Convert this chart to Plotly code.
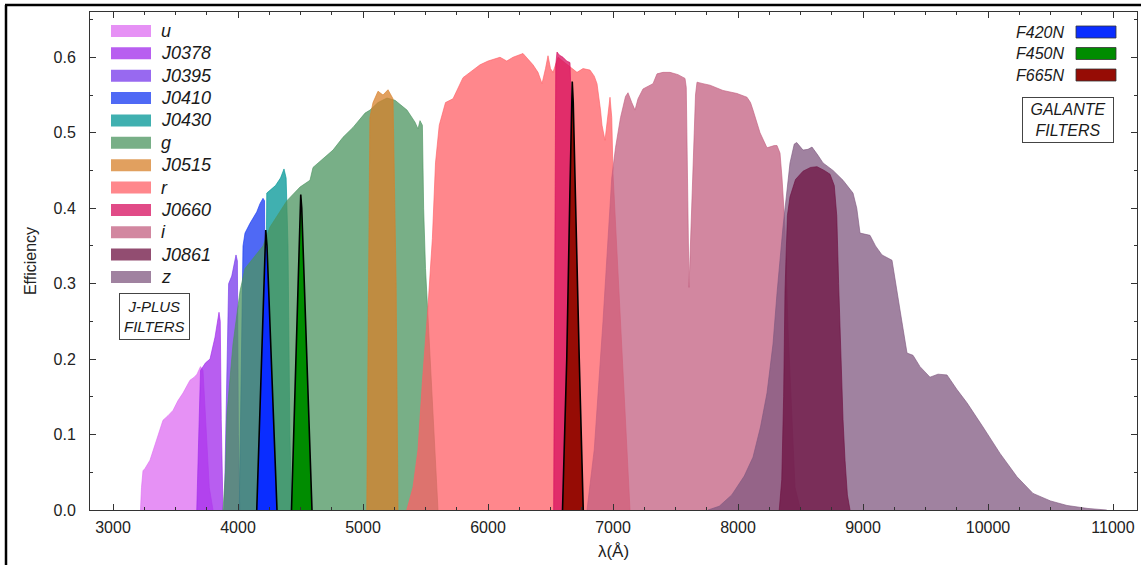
import plotly.graph_objects as go

# ---------------- data (wavelength in Angstrom, efficiency) ----------------
jplus_names = ["u", "J0378", "J0395", "J0410", "J0430", "g", "J0515", "r", "J0660", "i", "J0861", "z"]
galante_names = ["F420N", "F450N", "F665N"]

u_wl = [3220, 3228, 3240, 3256, 3296, 3350, 3400, 3440, 3480, 3520, 3560, 3616, 3650, 3672, 3700, 3720, 3745, 3770, 3800]
u_eff = [0.0, 0.03, 0.052, 0.055, 0.066, 0.095, 0.119, 0.125, 0.132, 0.145, 0.155, 0.172, 0.176, 0.18, 0.19, 0.185, 0.1, 0.03, 0.0]

j0378_wl = [3670, 3685, 3700, 3740, 3776, 3816, 3848, 3858, 3866, 3880]
j0378_eff = [0.0, 0.08, 0.185, 0.195, 0.2, 0.229, 0.262, 0.25, 0.12, 0.0]

j0395_wl = [3890, 3905, 3925, 3950, 3984, 3995, 4003, 4015]
j0395_eff = [0.0, 0.15, 0.3, 0.31, 0.338, 0.33, 0.1, 0.0]

j0410_wl = [4010, 4025, 4040, 4056, 4096, 4150, 4176, 4200, 4212, 4220, 4235]
j0410_eff = [0.0, 0.2, 0.35, 0.367, 0.38, 0.395, 0.406, 0.413, 0.41, 0.2, 0.0]

j0430_wl = [4210, 4222, 4230, 4300, 4340, 4368, 4385, 4400, 4415, 4430]
j0430_eff = [0.0, 0.3, 0.42, 0.43, 0.44, 0.452, 0.44, 0.35, 0.1, 0.0]

g_wl = [3880, 3900, 3912, 3960, 4016, 4056, 4200, 4256, 4392, 4496, 4576, 4600, 4760, 4840, 4920, 5016,
        5056, 5120, 5192, 5256, 5352, 5416, 5440, 5456, 5475, 5485, 5500, 5530, 5560, 5600]
g_eff = [0.0, 0.05, 0.128, 0.22, 0.29, 0.32, 0.35, 0.375, 0.41, 0.428, 0.437, 0.454, 0.477, 0.494, 0.507, 0.526,
         0.53, 0.54, 0.546, 0.543, 0.53, 0.514, 0.505, 0.516, 0.51, 0.4, 0.32, 0.22, 0.12, 0.0]

j0515_wl = [5030, 5045, 5055, 5080, 5120, 5160, 5200, 5240, 5265, 5280]
j0515_eff = [0.0, 0.3, 0.52, 0.54, 0.555, 0.55, 0.557, 0.545, 0.3, 0.0]

r_wl = [5350, 5400, 5440, 5475, 5520, 5555, 5580, 5610, 5660, 5720, 5800, 5860, 5936, 6000, 6096, 6150, 6200,
        6280, 6320, 6360, 6400, 6432, 6460, 6480, 6500, 6520, 6560, 6640, 6712, 6760, 6816, 6850, 6872, 6900,
        6912, 6936, 6960, 6976, 6990, 7000, 7136]
r_eff = [0.0, 0.03, 0.08, 0.17, 0.27, 0.36, 0.46, 0.51, 0.54, 0.545, 0.573, 0.58, 0.59, 0.595, 0.6, 0.595, 0.6,
         0.605, 0.597, 0.59, 0.58, 0.565, 0.585, 0.602, 0.585, 0.58, 0.6, 0.59, 0.58, 0.585, 0.583, 0.575, 0.565, 0.53,
         0.51, 0.49, 0.52, 0.547, 0.52, 0.446, 0.0]

j0660_wl = [6525, 6535, 6542, 6552, 6570, 6600, 6630, 6656, 6664, 6670, 6680]
j0660_eff = [0.0, 0.3, 0.59, 0.607, 0.603, 0.6, 0.595, 0.593, 0.55, 0.3, 0.0]

i_wl = [6792, 6850, 6920, 6990, 7020, 7060, 7100, 7120, 7150, 7176, 7200, 7240, 7320, 7352, 7400, 7456, 7520,
        7576, 7586, 7608, 7660, 7672, 7720, 7776, 7880, 7992, 8072, 8100, 8120, 8176, 8232, 8290, 8312, 8336,
        8352, 8376, 8400, 8432, 8456, 8500]
i_eff = [0.0, 0.08, 0.25, 0.44, 0.48, 0.52, 0.548, 0.553, 0.54, 0.53, 0.545, 0.558, 0.565, 0.578, 0.58, 0.58, 0.577,
         0.572, 0.56, 0.295, 0.55, 0.567, 0.565, 0.563, 0.556, 0.552, 0.547, 0.54, 0.53, 0.5, 0.48, 0.483, 0.483, 0.473,
         0.44, 0.375, 0.24, 0.11, 0.03, 0.0]

j0861_wl = [8330, 8350, 8365, 8376, 8395, 8416, 8460, 8520, 8580, 8632, 8690, 8736, 8770, 8790, 8805, 8816,
            8840, 8856, 8875, 8896]
j0861_eff = [0.0, 0.04, 0.15, 0.29, 0.39, 0.415, 0.438, 0.449, 0.454, 0.455, 0.45, 0.445, 0.43, 0.39, 0.3, 0.24,
             0.12, 0.066, 0.02, 0.0]

z_wl = [7760, 7850, 7950, 8050, 8120, 8180, 8232, 8280, 8312, 8360, 8416, 8450, 8470, 8520, 8560, 8592, 8640,
        8680, 8760, 8840, 8920, 8950, 8976, 9056, 9100, 9152, 9232, 9260, 9296, 9352, 9400, 9456, 9536, 9600,
        9672, 9750, 9832, 9960, 10096, 10232, 10360, 10500, 10632, 10800, 10950]
z_eff = [0.0, 0.005, 0.02, 0.045, 0.07, 0.11, 0.155, 0.22, 0.287, 0.375, 0.46, 0.485, 0.487, 0.477, 0.478, 0.481,
         0.47, 0.46, 0.45, 0.437, 0.42, 0.4, 0.367, 0.364, 0.35, 0.338, 0.331, 0.3, 0.265, 0.208, 0.205, 0.19, 0.176,
         0.18, 0.179, 0.16, 0.142, 0.11, 0.075, 0.044, 0.022, 0.012, 0.006, 0.002, 0.0]

f420n_wl = [4150, 4185, 4205, 4215, 4222, 4232, 4255, 4285, 4312]
f420n_eff = [0.0, 0.18, 0.3, 0.355, 0.371, 0.35, 0.25, 0.12, 0.0]

f450n_wl = [4428, 4460, 4485, 4496, 4502, 4510, 4530, 4560, 4592]
f450n_eff = [0.0, 0.18, 0.33, 0.4, 0.418, 0.4, 0.3, 0.14, 0.0]

f665n_wl = [6596, 6630, 6655, 6668, 6674, 6682, 6700, 6730, 6762]
f665n_eff = [0.0, 0.2, 0.42, 0.54, 0.568, 0.54, 0.4, 0.2, 0.0]

x_ticks = [3000, 4000, 5000, 6000, 7000, 8000, 9000, 10000, 11000]
y_ticks = [0.0, 0.1, 0.2, 0.3, 0.4, 0.5, 0.6]

# ---------------- style ----------------
jplus_curves = {"u": (u_wl, u_eff), "J0378": (j0378_wl, j0378_eff), "J0395": (j0395_wl, j0395_eff),
                "J0410": (j0410_wl, j0410_eff), "J0430": (j0430_wl, j0430_eff), "g": (g_wl, g_eff),
                "J0515": (j0515_wl, j0515_eff), "r": (r_wl, r_eff), "J0660": (j0660_wl, j0660_eff),
                "i": (i_wl, i_eff), "J0861": (j0861_wl, j0861_eff), "z": (z_wl, z_eff)}
galante_curves = [(f420n_wl, f420n_eff), (f450n_wl, f450n_eff), (f665n_wl, f665n_eff)]

jplus_rgb = {"u": (222, 108, 242), "J0378": (160, 40, 235), "J0395": (118, 55, 235), "J0410": (20, 55, 242),
             "J0430": (0, 150, 150), "g": (75, 148, 95), "J0515": (215, 128, 42), "r": (255, 95, 102),
             "J0660": (215, 15, 95), "i": (195, 95, 128), "J0861": (110, 18, 65), "z": (128, 88, 128)}
ALPHA = 0.75
galante_rgb = [(10, 45, 255), (0, 140, 0), (150, 12, 5)]
draw_order = ["u", "J0378", "J0395", "J0410", "J0430", "g", "J0515", "r", "J0660", "i", "z", "J0861"]

FONT = "Liberation Sans"

fig = go.Figure()
for name in draw_order:
    wl, ef = jplus_curves[name]
    c = jplus_rgb[name]
    fig.add_trace(go.Scatter(
        x=wl, y=ef, name=name, mode="lines", fill="tozeroy",
        fillcolor=f"rgba({c[0]},{c[1]},{c[2]},{ALPHA})",
        line=dict(color=f"rgba({c[0]},{c[1]},{c[2]},0.9)", width=0.7),
        showlegend=False))
for name, (wl, ef), c in zip(galante_names, galante_curves, galante_rgb):
    fig.add_trace(go.Scatter(
        x=wl, y=ef, name=name, mode="lines", fill="tozeroy",
        fillcolor=f"rgb({c[0]},{c[1]},{c[2]})",
        line=dict(color="black", width=1.6),
        showlegend=False))

# pixel -> paper helpers (plot area 90..1137 x, 12..510 y)
L, R, T, B = 90, 1137, 12, 510
def px(x):
    return (x - L) / (R - L)
def py(y):
    return (B - y) / (B - T)

shapes = []
annotations = []
ital = dict(family=FONT, size=18, color="#1a1a1a", style="italic")

# J-PLUS legend (left)
for k, name in enumerate(jplus_names):
    c = jplus_rgb[name]
    cy = 31 + 22.36 * k
    shapes.append(dict(type="rect", xref="paper", yref="paper", x0=px(111), x1=px(151),
                       y0=py(cy + 6), y1=py(cy - 6), line=dict(width=0),
                       fillcolor=f"rgba({c[0]},{c[1]},{c[2]},{ALPHA})"))
    annotations.append(dict(xref="paper", yref="paper", x=px(159), y=py(cy), text=name,
                            showarrow=False, xanchor="left", yanchor="middle", font=ital))

# GALANTE legend (right)
for k, (name, c) in enumerate(zip(galante_names, galante_rgb)):
    cy = 32 + 21.5 * k
    shapes.append(dict(type="rect", xref="paper", yref="paper", x0=px(1076), x1=px(1116),
                       y0=py(cy + 6), y1=py(cy - 6), line=dict(width=0.8, color="#333"),
                       fillcolor=f"rgb({c[0]},{c[1]},{c[2]})"))
    annotations.append(dict(xref="paper", yref="paper", x=px(1066), y=py(cy), text=name,
                            showarrow=False, xanchor="right", yanchor="middle",
                            font=dict(family=FONT, size=16, color="#1a1a1a", style="italic")))

annotations.append(dict(xref="paper", yref="paper", x=px(154.5), y=py(316), text="J-PLUS<br>FILTERS",
                        showarrow=False, xanchor="center", yanchor="middle",
                        font=dict(family=FONT, size=15, color="#1a1a1a", style="italic"),
                        bordercolor="#444", borderwidth=1, borderpad=4, bgcolor="white"))
annotations.append(dict(xref="paper", yref="paper", x=px(1068), y=py(120), text="GALANTE<br>FILTERS",
                        showarrow=False, xanchor="center", yanchor="middle",
                        font=dict(family=FONT, size=16, color="#1a1a1a", style="italic"),
                        bordercolor="#444", borderwidth=1, borderpad=3, bgcolor="white", width=84))

# outer frame lines (top and left of the figure)
shapes.append(dict(type="line", xref="paper", yref="paper", x0=px(5), x1=px(1141), y0=py(5), y1=py(5),
                   line=dict(color="black", width=2.5)))
shapes.append(dict(type="line", xref="paper", yref="paper", x0=px(6), x1=px(6), y0=py(5), y1=py(566),
                   line=dict(color="black", width=2.5)))

axis_common = dict(showgrid=False, zeroline=False, showline=True, linecolor="#333", linewidth=1,
                   mirror="allticks", ticks="inside", ticklen=6, tickwidth=1, tickcolor="#333",
                   tickfont=dict(family=FONT, size=16, color="#222"))

fig.update_layout(
    width=1141, height=565,
    margin=dict(l=L, r=1141 - R, t=T, b=565 - B),
    paper_bgcolor="white", plot_bgcolor="white",
    showlegend=False, hovermode=False,
    shapes=shapes, annotations=annotations,
    xaxis=dict(range=[2816, 11192], tickmode="array", tickvals=x_ticks,
               ticktext=[str(v) for v in x_ticks],
               minor=dict(dtick=250, tick0=3000, ticks="inside", ticklen=3, tickcolor="#333"),
               title=dict(text="λ(Å)", font=dict(family=FONT, size=17, color="#222"), standoff=9),
               ticklabelstandoff=3, **axis_common),
    yaxis=dict(range=[0, 0.66], tickmode="array", tickvals=y_ticks,
               ticktext=[f"{v:.1f}" for v in y_ticks],
               minor=dict(dtick=0.05, tick0=0, ticks="inside", ticklen=3, tickcolor="#333"),
               title=dict(text="Efficiency", font=dict(family=FONT, size=16, color="#222"), standoff=12),
               ticklabelstandoff=10, **axis_common),
)

fig.write_html("out.html", config={"displayModeBar": False, "staticPlot": True},
               post_script="document.body.style.margin='0px';document.body.style.padding='0px';")
